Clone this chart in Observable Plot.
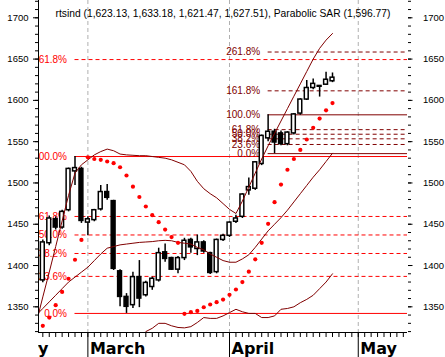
<!DOCTYPE html>
<html>
<head>
<meta charset="utf-8">
<script src="https://cdn.jsdelivr.net/npm/d3@7"></script>
<script src="https://cdn.jsdelivr.net/npm/@observablehq/plot@0.6"></script>
<style>
  html, body { margin: 0; padding: 0; background: #fff; }
  svg { display: block; }
</style>
</head>
<body>
<div id="chart"></div>
<script>
// ---- Candles (one per trading day, index 0..45) ----
const opens  = [1382,1427,1456,1446,1467,1514,1517,1452,1455,1468,1489,1478,1393,1362,1352,1386,1364,1374,1382,1416,1409,1395,1409,1431,1420,1428,1415,1392,1431,1436,1453,1459,1491,1493,1523,1554,1562,1560,1547,1560,1584,1601,1615,1617.5,1619,1623.13];
const highs  = [1431,1460,1459,1467,1518,1532,1519,1459,1468,1497,1498,1479,1395,1366,1392,1406,1381,1386,1421,1426,1410,1411,1433,1433,1437,1430,1416,1432,1438,1453,1461,1487,1506,1526,1558,1582.5,1565,1563,1562,1584,1602,1624,1626,1618,1634,1633.18];
const lows   = [1379,1424,1443,1444,1465,1497,1451,1436,1453,1466,1479,1394,1350,1342,1348,1349,1362,1370,1380,1404,1394,1390,1406,1415,1412,1415,1389,1390,1429,1434,1451,1457,1485,1491,1521,1550,1535.5,1545,1545,1558,1582,1600,1613,1604,1618,1621.47];
const closes = [1428,1457,1446,1465,1517,1518,1454,1456,1467,1489,1482,1396,1362,1350,1386,1360,1379,1384,1415,1408,1395,1409,1430,1422,1428,1417,1391,1431,1436,1452,1457,1486,1495,1525,1557,1562,1549,1547,1561,1583,1601,1615,1620,1616.5,1625,1627.51];

// ---- Parabolic SAR (index 0..45) ----
const sarValues = [1327,1337,1352,1368,1384,1407,1431,1531,1529,1528,1526,1524,1519,1509,1495.5,1483,1471.5,1461,1452.5,1443.6,1434.5,1427.5,1341.5,1343.5,1345,1349.5,1352.8,1355.6,1358.8,1364.5,1371,1380,1392.5,1407.5,1427.5,1450.5,1476.7,1498,1516,1529,1540,1552.6,1566.8,1578,1588,1596.77];

// ---- Bollinger bands ----
const bandStart = -1;   // first index of upper/middle arrays
const bbUpper  = [1331,1362,1392,1423,1454,1485,1512,1522,1528,1534,1538,1541,1539,1535,1534,1533.5,1533,1533,1532,1531,1530,1528,1525,1522,1514,1502,1493,1487,1482,1475,1468,1463,1478,1495,1512,1529,1545,1560,1575,1590,1605,1620,1635,1650,1663,1673,1681];
const bbMiddle = [1340,1348,1356,1364,1372,1380,1386,1392,1398,1406,1414,1421,1423,1425,1426,1427,1428,1428.5,1429,1430,1430.5,1430,1428,1427,1426,1422,1419,1414,1410,1406,1404,1404,1408,1413,1422,1432,1442,1450,1458,1467,1477,1487,1497,1507,1516,1526,1536];
const lowerStart = 14;
const bbLower  = [1300,1311,1320,1324,1330,1330,1327,1325,1324.5,1326,1331,1337,1336,1336,1339,1343,1347,1344,1342,1342,1337,1337,1339,1347,1348,1350,1355,1359,1364,1372,1380,1390];

// ---- Fibonacci retracements (anchored on candles) ----
const fibLevels = [0, 23.6, 38.2, 50, 61.8, 100, 161.8, 261.8];
const fibLeftHighBar = 5,  fibLeftLowBar = 13;
const fibRightHighBar = 35, fibRightLowBar = 36;

// ---- Axes ----
const yTickLabels = [1350,1400,1450,1500,1550,1600,1650,1700];
const monthNames  = ["February","March","April","May"];
const monthStarts = [-12, 7, 29, 49];

// ---- Layout ----
const width = 445, height = 357;
const marginLeft = 38, marginRight = 38, marginTop = 0, marginBottom = 25;
const xDomain = [-0.67, 56.65];
const yDomain = [1318.9, 1720.95];

const candles = opens.map((o, i) => ({i, o, h: highs[i], l: lows[i], c: closes[i]}));
const sar = sarValues.map((v, i) => ({i, v}));
const upper = bbUpper.map((v, k) => ({i: k + bandStart, v}));
const middle = bbMiddle.map((v, k) => ({i: k + bandStart, v}));
const lower = bbLower.map((v, k) => ({i: k + lowerStart, v}));

const pct = d3.format(".1f");
function fibRows(low, high) {
  return fibLevels.map(p => ({p, v: low + (high - low) * p / 100, label: pct(p) + "%"}))
    .filter(d => d.v <= yDomain[1]);
}
const fibL = fibRows(lows[fibLeftLowBar], highs[fibLeftHighBar]);
const fibR = fibRows(lows[fibRightLowBar], highs[fibRightHighBar]);
const solid = d => d.p === 0 || d.p === 100;

const fmt = d3.format(",.2f");
const last = opens.length - 1;
const header = `rtsind (${fmt(opens[last])}, ${fmt(highs[last])}, ${fmt(lows[last])}, ${fmt(closes[last])}), Parabolic SAR (${fmt(sarValues[last])})`;

const minorTicks = d3.range(1320, 1721, 10);
const barTicks = d3.range(0, Math.floor(xDomain[1]) + 1);
const monthsIn = monthStarts.filter(m => m >= xDomain[0] && m <= xDomain[1]);
const months = monthNames.map((name, k) => ({name, i: monthStarts[k]}));

const RED = "#ff0000", MAROON = "#800000";
const blank = () => "";

const chart = Plot.plot({
  width, height, marginLeft, marginRight, marginTop, marginBottom,
  style: {fontFamily: "Liberation Sans, Arial, sans-serif", fontSize: "10px", background: "#fff", color: "#000"},
  x: {domain: xDomain, axis: null, label: null},
  y: {domain: yDomain, axis: null, label: null},
  marks: [
    // month gridlines
    Plot.ruleX(monthsIn, {x: d => d, stroke: "#b0b0b0", strokeDasharray: "4,3"}),
    // left fib
    Plot.ruleY(fibL.filter(d => !solid(d)), {y: "v", x1: fibLeftHighBar, x2: xDomain[1], stroke: RED, strokeDasharray: "4,3"}),
    Plot.ruleY(fibL.filter(solid), {y: "v", x1: fibLeftHighBar, x2: xDomain[1], stroke: RED}),
    Plot.text(fibL, {y: "v", x: fibLeftHighBar, text: "label", dx: -8, textAnchor: "end", fill: RED, fontSize: 10, clip: true}),
    // right fib
    Plot.ruleY(fibR.filter(d => !solid(d)), {y: "v", x1: fibRightHighBar, x2: xDomain[1], stroke: MAROON, strokeDasharray: "4,3"}),
    Plot.ruleY(fibR.filter(solid), {y: "v", x1: fibRightHighBar, x2: xDomain[1], stroke: MAROON}),
    Plot.text(fibR, {y: "v", x: fibRightHighBar, text: "label", dx: -8, textAnchor: "end", fill: MAROON, fontSize: 10, clip: true}),
    // candles
    Plot.ruleX(candles, {x: "i", y1: "l", y2: "h", stroke: "#000", strokeWidth: 1.5}),
    Plot.rect(candles, {x1: d => d.i - 0.3, x2: d => d.i + 0.3, y1: "o", y2: "c",
      fill: d => d.c >= d.o ? "#fff" : "#000", stroke: "#000", strokeWidth: 1.5}),
    // bollinger
    Plot.line(upper, {x: "i", y: "v", stroke: MAROON, strokeWidth: 1, clip: true}),
    Plot.line(middle, {x: "i", y: "v", stroke: MAROON, strokeWidth: 1, clip: true}),
    Plot.line(lower, {x: "i", y: "v", stroke: MAROON, strokeWidth: 1, clip: true}),
    // SAR
    Plot.dot(sar, {x: "i", y: "v", r: 2.1, fill: RED}),
    // axes
    Plot.ruleX([xDomain[0]], {stroke: "#000"}),
    Plot.ruleY([yDomain[0]], {stroke: "#000"}),
    Plot.axisY(minorTicks, {anchor: "left", tickSize: 3, tickFormat: blank, label: null}),
    Plot.axisY(yTickLabels, {anchor: "left", tickSize: 5, tickPadding: 5, tickFormat: "d", fontSize: 9.5, label: null}),
    Plot.axisY(minorTicks, {anchor: "right", tickSize: 3, tickFormat: blank, label: null}),
    Plot.axisY(yTickLabels, {anchor: "right", tickSize: 4.5, tickPadding: 11, tickFormat: "d", fontSize: 9.5, label: null}),
    Plot.axisX(barTicks, {anchor: "bottom", tickSize: 5, tickFormat: blank, label: null}),
    Plot.axisX(monthsIn, {anchor: "bottom", tickSize: 25, tickFormat: blank, label: null}),
    Plot.text(months, {x: "i", text: "name", frameAnchor: "bottom", dy: 21, dx: 2, textAnchor: "start", lineAnchor: "bottom",
      fontFamily: "DejaVu Sans", fontWeight: "bold", fontSize: 16, fill: "#000"}),
    Plot.text([header], {text: d => d, frameAnchor: "top", dy: 9, fontSize: 10.3, fill: "#000"})
  ]
});

// clip month labels to the plotting width (the February label is cut at the left axis)
(function clipMonths() {
  const ns = "http://www.w3.org/2000/svg";
  const t = Array.from(chart.querySelectorAll("text")).find(e => e.textContent === monthNames[0]);
  if (!t) return;
  const g = t.parentNode;
  const defs = document.createElementNS(ns, "defs");
  const cp = document.createElementNS(ns, "clipPath");
  cp.setAttribute("id", "monthClip");
  const r = document.createElementNS(ns, "rect");
  r.setAttribute("x", marginLeft); r.setAttribute("y", 0);
  r.setAttribute("width", width - marginLeft); r.setAttribute("height", height);
  cp.appendChild(r); defs.appendChild(cp);
  chart.insertBefore(defs, chart.firstChild);
  const wrap = document.createElementNS(ns, "g");
  wrap.setAttribute("clip-path", "url(#monthClip)");
  g.parentNode.insertBefore(wrap, g);
  wrap.appendChild(g);
})();

document.getElementById("chart").appendChild(chart);
</script>
</body>
</html>
